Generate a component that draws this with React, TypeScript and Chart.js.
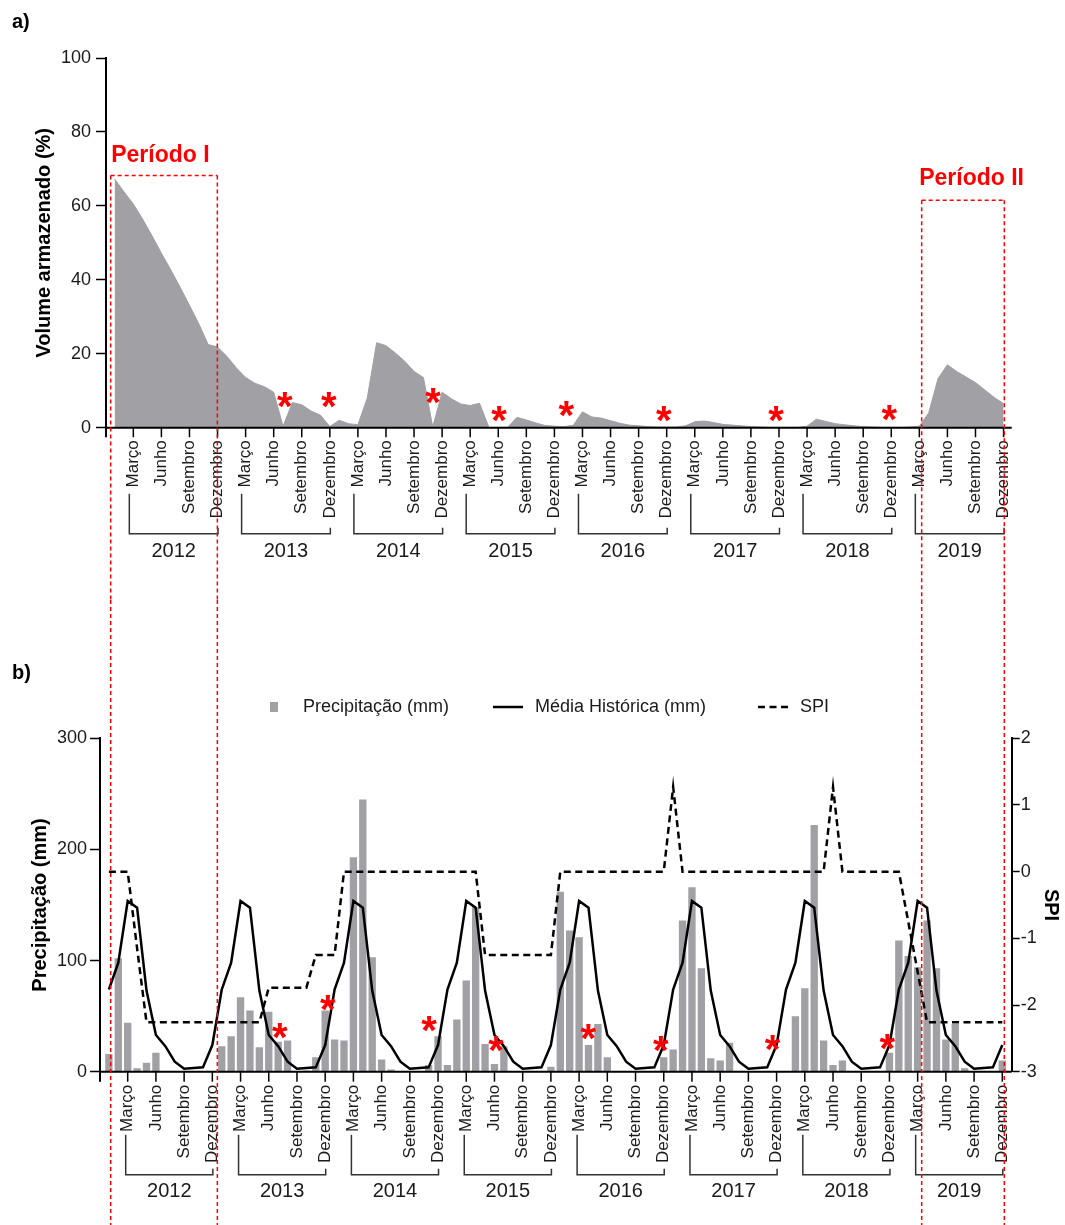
import React, { useEffect, useRef } from 'react';
import { Chart, registerables } from 'chart.js';

Chart.register(...registerables);

const FONT = "'Liberation Sans', Arial, Helvetica, sans-serif";
const GRAY = 'rgb(160,160,165)';
const RED = '#ff0000';

// ---- categories / tick labels ----
const years = ['2012', '2013', '2014', '2015', '2016', '2017', '2018', '2019'];
const monthTickLabels = ['Março', 'Junho', 'Setembro', 'Dezembro'];
const monthTickOffsets = [2, 5, 8, 11];

// ---- a) Volume armazenado (%) — monthly, Jan 2012 .. Dec 2019 ----
const volumeStored = [
  67.3, 63.8, 60.5, 56.4, 51.9, 47.2, 42.7, 38.0, 33.1, 28.1, 22.5, 21.8,
  19.3, 16.2, 13.6, 12.0, 11.1, 9.6, 0.4, 6.8, 6.2, 4.5, 3.4, 0.3,
  2.0, 1.1, 0.8, 8.0, 23.0, 22.2, 20.2, 18.0, 15.2, 13.6, 0.2, 9.6,
  7.8, 6.4, 6.0, 6.6, 0.1, 0.1, 0.1, 2.8, 2.1, 1.3, 0.6, 0.4,
  0.3, 0.6, 4.3, 2.9, 2.6, 1.9, 1.2, 0.7, 0.5, 0.3, 0.2, 0.2,
  0.2, 0.5, 1.6, 1.8, 1.4, 0.9, 0.7, 0.5, 0.3, 0.2, 0.1, 0.1,
  0.1, 0.1, 0.4, 2.3, 1.7, 1.1, 0.8, 0.5, 0.3, 0.2, 0.1, 0.1,
  0.1, 0.2, 0.4, 4.0, 13.3, 17.0, 15.2, 13.7, 12.2, 10.2, 8.2, 6.5,
];

// ---- b) Precipitação (mm) ----
const precipitation = [
  16, 102, 44, 3, 8, 17, 0, 0, 0, 0, 0, 0,
  23, 32, 67, 55, 22, 54, 27, 28, 0, 1, 13, 55,
  29, 28, 193, 245, 103, 11, 2, 0, 0, 0, 6, 32,
  6, 47, 82, 148, 25, 7, 23, 0, 0, 0, 0, 4.5,
  162, 127, 121, 24, 43, 13, 0, 0, 0, 0, 0, 13,
  20, 136, 166, 93, 12, 10, 26, 0, 0, 0, 0, 0,
  0, 50, 75, 222, 28, 6, 10, 0, 0, 0, 0, 17,
  118, 104, 94, 136, 93, 29, 43, 3, 0, 0, 0, 10,
];

// ---- b) Média Histórica (mm) ----
const historicalMean = [
  74, 98, 153.6, 147.6, 73, 33, 23, 9, 2.7, 3.3, 3.9, 24,
  74, 98, 153.6, 147.6, 73, 33, 23, 9, 2.7, 3.3, 3.9, 24,
  74, 98, 153.6, 147.6, 73, 33, 23, 9, 2.7, 3.3, 3.9, 24,
  74, 98, 153.6, 147.6, 73, 33, 23, 9, 2.7, 3.3, 3.9, 24,
  74, 98, 153.6, 147.6, 73, 33, 23, 9, 2.7, 3.3, 3.9, 24,
  74, 98, 153.6, 147.6, 73, 33, 23, 9, 2.7, 3.3, 3.9, 24,
  74, 98, 153.6, 147.6, 73, 33, 23, 9, 2.7, 3.3, 3.9, 24,
  74, 98, 153.6, 147.6, 73, 33, 23, 9, 2.7, 3.3, 3.9, 24,
];

// ---- b) SPI ----
const spi = [
  0, 0, 0, -1.15, -2.26, -2.26, -2.26, -2.26, -2.26, -2.26, -2.26, -2.26,
  -2.26, -2.26, -2.26, -2.26, -2.26, -1.74, -1.74, -1.74, -1.74, -1.74, -1.25, -1.25,
  -1.25, 0, 0, 0, 0, 0, 0, 0, 0, 0, 0, 0,
  0, 0, 0, 0, -1.25, -1.25, -1.25, -1.25, -1.25, -1.25, -1.25, -1.25,
  0, 0, 0, 0, 0, 0, 0, 0, 0, 0, 0, 0,
  1.27, 0, 0, 0, 0, 0, 0, 0, 0, 0, 0, 0,
  0, 0, 0, 0, 0, 1.27, 0, 0, 0, 0, 0, 0,
  0, -0.75, -1.5, -2.26, -2.26, -2.26, -2.26, -2.26, -2.26, -2.26, -2.26, -2.26,
];

// ---- asterisk markers (month index, value) ----
const markerMonthsA = [18.2, 22.9, 34.06, 41.1, 48.3, 58.7, 70.7, 82.8];
const markerValuesA = [7.5, 7.5, 8.6, 3.6, 5.0, 3.6, 3.6, 4.1];
const markerMonthsB = [18.2, 23.3, 34.07, 41.2, 51.0, 58.7, 70.6, 82.8];
const markerValuesB = [36.6, 62, 43, 24.7, 36, 24.7, 25.6, 26.5];

// ---- periods (month index range on panel a, top in %) ----
const periodLabels = ['Período I', 'Período II'];
const periodStart = [-0.42, 86.25];
const periodEnd = [10.98, 95.08];
const periodTop = [68.2, 61.5];

const legendLabels = ['Precipitação (mm)', 'Média Histórica (mm)', 'SPI'];

function drawMonthAxis(chart: any, o: any) {
  const { ctx, chartArea } = chart;
  const xs = chart.scales.x;
  const yb = chartArea.bottom;
  ctx.save();
  ctx.strokeStyle = '#000';
  ctx.lineWidth = 2;
  ctx.beginPath();
  ctx.moveTo(chartArea.left, yb);
  ctx.lineTo(chartArea.right, yb);
  ctx.moveTo(chartArea.left, yb);
  ctx.lineTo(chartArea.left, yb + o.tickLen);
  ctx.stroke();
  years.forEach((yr, k) => {
    ctx.strokeStyle = '#000';
    ctx.lineWidth = 1.5;
    ctx.fillStyle = '#1a1a1a';
    ctx.font = `17px ${FONT}`;
    monthTickOffsets.forEach((m, q) => {
      const px = xs.getPixelForValue(k * 12 + m);
      ctx.beginPath();
      ctx.moveTo(px, yb);
      ctx.lineTo(px, yb + o.tickLen);
      ctx.stroke();
      ctx.save();
      ctx.translate(px, yb + o.tickLen + o.labelGap);
      ctx.rotate(-Math.PI / 2);
      ctx.textAlign = 'right';
      ctx.textBaseline = 'middle';
      ctx.fillText(monthTickLabels[q], 0, 0);
      ctx.restore();
    });
    const l = xs.getPixelForValue(k * 12 + 2) - o.bracketLeftShift;
    const r = xs.getPixelForValue(k * 12 + 11) + 0.5;
    ctx.strokeStyle = '#333';
    ctx.lineWidth = 1.5;
    ctx.beginPath();
    ctx.moveTo(l, yb + o.bTop);
    ctx.lineTo(l, yb + o.bBottom);
    ctx.lineTo(r, yb + o.bBottom);
    ctx.lineTo(r, yb + o.bBottom - 6);
    ctx.stroke();
    ctx.font = `20px ${FONT}`;
    ctx.textAlign = 'center';
    ctx.textBaseline = 'alphabetic';
    ctx.fillText(yr, (l + r) / 2, yb + o.yearY + 7);
  });
  ctx.restore();
}

function drawAsterisks(chart: any, months: number[], values: number[], yId: string) {
  const { ctx } = chart;
  const xs = chart.scales.x;
  const ys = chart.scales[yId];
  ctx.save();
  ctx.fillStyle = RED;
  ctx.font = `bold 40px ${FONT}`;
  ctx.textAlign = 'left';
  ctx.textBaseline = 'alphabetic';
  const m = ctx.measureText('*');
  const w = m.actualBoundingBoxRight + m.actualBoundingBoxLeft;
  const h = m.actualBoundingBoxAscent + m.actualBoundingBoxDescent;
  months.forEach((mo, i) => {
    const cx = xs.getPixelForValue(mo);
    const cy = ys.getPixelForValue(values[i]);
    ctx.fillText('*', cx - w / 2 + m.actualBoundingBoxLeft, cy + h / 2 - m.actualBoundingBoxDescent);
  });
  ctx.restore();
}

function drawPeriodLines(chart: any, refChart: any, withBox: boolean) {
  const { ctx } = chart;
  const xs = refChart.scales.x;
  const ys = refChart.scales.y;
  ctx.save();
  ctx.strokeStyle = RED;
  ctx.lineWidth = 1.5;
  ctx.setLineDash([4, 3]);
  periodLabels.forEach((lab, i) => {
    const l = xs.getPixelForValue(periodStart[i]);
    const r = xs.getPixelForValue(periodEnd[i]);
    const top = withBox ? ys.getPixelForValue(periodTop[i]) : 0;
    ctx.beginPath();
    if (withBox) {
      ctx.moveTo(l, top);
      ctx.lineTo(r, top);
    }
    ctx.moveTo(l, top);
    ctx.lineTo(l, chart.height);
    ctx.moveTo(r, top);
    ctx.lineTo(r, chart.height);
    ctx.stroke();
    if (withBox) {
      ctx.save();
      ctx.setLineDash([]);
      ctx.fillStyle = RED;
      ctx.font = `bold 23px ${FONT}`;
      ctx.textAlign = 'left';
      ctx.textBaseline = 'alphabetic';
      ctx.fillText(lab, l - (i === 0 ? -0.5 : 2.5), top - (i === 0 ? 13.5 : 15.5));
      ctx.restore();
    }
  });
  ctx.restore();
}

function drawPanelLabel(chart: any, text: string, y: number) {
  const { ctx } = chart;
  ctx.save();
  ctx.fillStyle = '#000';
  ctx.font = `bold 20px ${FONT}`;
  ctx.textAlign = 'left';
  ctx.textBaseline = 'alphabetic';
  ctx.fillText(text, 12, y);
  ctx.restore();
}

export default function App() {
  const refA = useRef<HTMLCanvasElement>(null);
  const refB = useRef<HTMLCanvasElement>(null);

  useEffect(() => {
    document.body.style.margin = '0';
    document.body.style.overflow = 'hidden';
    Chart.defaults.font.family = FONT;
    Chart.defaults.color = '#1a1a1a';

    const shared: any = { a: null };

    const pluginA = {
      id: 'panelA',
      afterDatasetsDraw(chart: any) {
        drawAsterisks(chart, markerMonthsA, markerValuesA, 'y');
      },
      afterDraw(chart: any) {
        drawMonthAxis(chart, { tickLen: 9.5, labelGap: 3, bTop: 66, bBottom: 106, yearY: 122, bracketLeftShift: 4 });
        drawPanelLabel(chart, 'a)', 28);
        drawPeriodLines(chart, chart, true);
      },
    };

    const chartA = new Chart(refA.current as HTMLCanvasElement, {
      type: 'line',
      data: {
        datasets: [
          {
            label: 'Volume armazenado (%)',
            data: volumeStored.map((v, i) => ({ x: i, y: v })),
            fill: 'origin',
            backgroundColor: GRAY,
            borderColor: GRAY,
            borderWidth: 1,
            pointRadius: 0,
            tension: 0,
          },
        ],
      },
      options: {
        responsive: false,
        animation: false,
        events: [],
        layout: { padding: { left: 20, right: 53.3, top: 58, bottom: 172.3 } },
        plugins: { legend: { display: false }, tooltip: { enabled: false } },
        scales: {
          x: { type: 'linear', min: -0.92, max: 95.87, display: false, offset: false },
          y: {
            min: 0,
            max: 100,
            ticks: { stepSize: 20, font: { size: 18 }, color: '#1a1a1a', padding: 5 },
            grid: { drawOnChartArea: false, tickLength: 10, tickColor: '#000', tickWidth: 1.5 },
            border: { color: '#000', width: 2 },
            title: {
              display: true,
              text: 'Volume armazenado (%)',
              font: { size: 20, weight: 'bold' },
              color: '#000',
              padding: { top: 12, bottom: 0 },
            },
            afterFit: (s: any) => {
              s.width = 86;
            },
          },
        },
      } as any,
      plugins: [pluginA],
    });
    shared.a = chartA;

    const pluginB = {
      id: 'panelB',
      afterDatasetsDraw(chart: any) {
        drawAsterisks(chart, markerMonthsB, markerValuesB, 'y');
      },
      afterDraw(chart: any) {
        const { ctx } = chart;
        drawMonthAxis(chart, { tickLen: 10, labelGap: 3, bTop: 63, bBottom: 103, yearY: 118, bracketLeftShift: 2 });
        drawPanelLabel(chart, 'b)', 79);
        // legend
        const ly = 107;
        ctx.save();
        ctx.font = `18px ${FONT}`;
        ctx.textAlign = 'left';
        ctx.textBaseline = 'middle';
        ctx.fillStyle = GRAY;
        ctx.fillRect(270, ly - 5, 8, 10);
        ctx.fillStyle = '#1a1a1a';
        ctx.fillText(legendLabels[0], 303, ly);
        ctx.strokeStyle = '#000';
        ctx.lineWidth = 2.5;
        ctx.beginPath();
        ctx.moveTo(493, ly);
        ctx.lineTo(523, ly);
        ctx.stroke();
        ctx.fillText(legendLabels[1], 535, ly);
        ctx.setLineDash([7, 4.5]);
        ctx.beginPath();
        ctx.moveTo(758, ly);
        ctx.lineTo(791, ly);
        ctx.stroke();
        ctx.setLineDash([]);
        ctx.fillText(legendLabels[2], 800, ly);
        ctx.restore();
        if (shared.a) drawPeriodLines(chart, shared.a, false);
      },
    };

    const chartB = new Chart(refB.current as HTMLCanvasElement, {
      type: 'bar',
      data: {
        datasets: [
          {
            type: 'line',
            label: legendLabels[1],
            data: historicalMean.map((v, i) => ({ x: i, y: v })),
            borderColor: '#000',
            borderWidth: 2.5,
            pointRadius: 0,
            tension: 0,
            yAxisID: 'y',
            order: 1,
          },
          {
            type: 'line',
            label: legendLabels[2],
            data: spi.map((v, i) => ({ x: i, y: v })),
            borderColor: '#000',
            borderWidth: 2.5,
            borderDash: [7, 4.5],
            pointRadius: 0,
            tension: 0,
            yAxisID: 'y1',
            order: 2,
          },
          {
            type: 'bar',
            label: legendLabels[0],
            data: precipitation.map((v, i) => ({ x: i, y: v })),
            backgroundColor: GRAY,
            borderWidth: 0,
            barPercentage: 0.78,
            categoryPercentage: 1,
            yAxisID: 'y',
            order: 3,
          },
        ],
      },
      options: {
        responsive: false,
        animation: false,
        events: [],
        layout: { padding: { left: 16, right: 2, top: 138.3, bottom: 153.3 } },
        plugins: { legend: { display: false }, tooltip: { enabled: false } },
        scales: {
          x: { type: 'linear', min: -0.946, max: 96.0, display: false, offset: false },
          y: {
            position: 'left',
            min: 0,
            max: 300,
            ticks: { stepSize: 100, font: { size: 18 }, color: '#1a1a1a', padding: 3 },
            grid: { drawOnChartArea: false, tickLength: 10, tickColor: '#000', tickWidth: 1.5 },
            border: { color: '#000', width: 2 },
            title: {
              display: true,
              text: 'Precipitação (mm)',
              font: { size: 20, weight: 'bold' },
              color: '#000',
              padding: { top: 12.5, bottom: 0 },
            },
            afterFit: (s: any) => {
              s.width = 84;
            },
          },
          y1: {
            position: 'right',
            min: -3,
            max: 2,
            ticks: { stepSize: 1, font: { size: 18 }, color: '#1a1a1a', padding: 1 },
            grid: { drawOnChartArea: false, tickLength: 8, tickColor: '#000', tickWidth: 1.5 },
            border: { color: '#000', width: 2 },
            title: {
              display: true,
              text: 'SPI',
              font: { size: 20, weight: 'bold' },
              color: '#000',
              padding: { top: 0, bottom: 0 },
            },
            afterFit: (s: any) => {
              s.width = 51.3;
            },
          },
        },
      } as any,
      plugins: [pluginB],
    });

    return () => {
      chartA.destroy();
      chartB.destroy();
    };
  }, []);

  return (
    <div style={{ width: 1065, height: 1225, position: 'relative', background: '#fff' }}>
      <canvas ref={refA} width={1065} height={600} style={{ display: 'block', width: 1065, height: 600 }} />
      <canvas ref={refB} width={1065} height={625} style={{ display: 'block', width: 1065, height: 625 }} />
    </div>
  );
}
